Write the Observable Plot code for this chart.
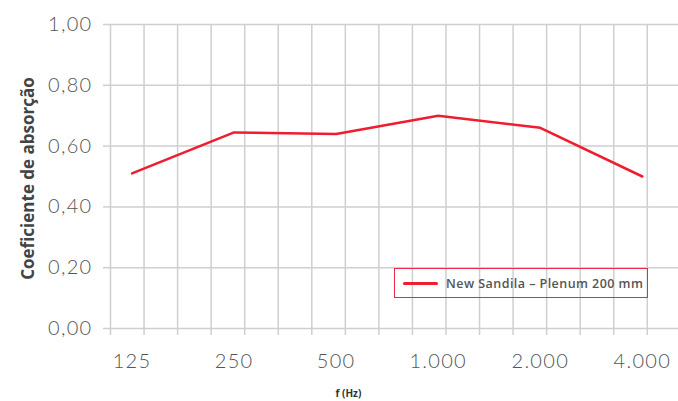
<!DOCTYPE html>
<html>
<head>
<meta charset="utf-8">
<script src="https://cdn.jsdelivr.net/npm/d3@7"></script>
<script src="https://cdn.jsdelivr.net/npm/@observablehq/plot@0.6"></script>
<style>
  html, body { margin: 0; padding: 0; background: #fff; }
  #wrap { position: relative; width: 678px; height: 401px; font-family: Lato, "Open Sans", sans-serif; }
  #wrap svg g[aria-label="y-axis tick label"] text,
  #wrap svg g[aria-label="x-axis tick label"] text { letter-spacing: 1.3px; }
  #wrap svg g[aria-label="ytitle"] text { letter-spacing: 0.9px; }
  #legend { position: absolute; left: 394px; top: 268px; width: 252px; height: 28px; border: 1px solid #e8294a; box-sizing: content-box; display: flex; align-items: center; }
  #legend .sw { width: 35px; height: 3px; background: #ee1d2f; border-radius: 2px; margin-left: 8px; margin-right: 8px; }
  #legend .lb { font-family: "Open Sans", sans-serif; font-size: 12.5px; font-weight: 600; letter-spacing: 0.45px; color: #555; white-space: nowrap; }
</style>
</head>
<body>
<div id="wrap"></div>
<script>
const frequencies = [125, 250, 500, 1000, 2000, 4000];
const tickLabels = ["125", "250", "500", "1.000", "2.000", "4.000"];
const absorption = [0.51, 0.645, 0.64, 0.70, 0.66, 0.50];
const yTicks = [0, 0.2, 0.4, 0.6, 0.8, 1.0];
const seriesName = "New Sandila – Plenum 200 mm";
const yTitle = "Coeficiente de absorção";
const xTitle = "f (Hz)";

const data = frequencies.map((f, i) => ({f, v: absorption[i]}));
const xMin = 108, xMax = 5113;
// 17 evenly spaced vertical grid lines (styling)
const gridFreq = d3.range(17).map(i => xMin * Math.pow(2, i * 0.3287));
const fmtY = d => d.toFixed(2).replace(".", ",");
const fmtX = d => tickLabels[frequencies.indexOf(d)];
const gray = "#cfcfcf";
const txt = "#555";

const plot = Plot.plot({
  width: 678,
  height: 401,
  marginTop: 24,
  marginBottom: 73,
  marginLeft: 110,
  marginRight: 0,
  style: {fontFamily: "Lato, 'Open Sans', sans-serif", background: "#fff"},
  x: {type: "log", domain: [xMin, xMax]},
  y: {domain: [0, 1]},
  marks: [
    Plot.gridX(gridFreq, {stroke: gray, strokeOpacity: 1, strokeWidth: 1.5}),
    Plot.gridY(yTicks, {stroke: gray, strokeOpacity: 1, strokeWidth: 1.5}),
    Plot.axisY(yTicks, {tickSize: 7, tickPadding: 11, stroke: gray, strokeWidth: 1.5, tickFormat: fmtY, fontSize: 20, fill: txt, fontWeight: 300, label: null}),
    Plot.axisX(gridFreq, {tickSize: 7, stroke: gray, strokeWidth: 1.5, tickFormat: () => "", label: null}),
    Plot.axisX(frequencies, {tickSize: 0, tickPadding: 25, tickFormat: fmtX, fontSize: 20, fill: txt, fontWeight: 300, label: null}),
    Plot.line(data, {x: "f", y: "v", stroke: "#ee1d2f", strokeWidth: 2.5}),
    Plot.text([yTitle], {ariaLabel: "ytitle", frameAnchor: "left", textAnchor: "middle", dx: -82, dy: 2, rotate: -90, fontSize: 17, fontWeight: "bold", fill: "#444", fontFamily: "'Open Sans', sans-serif"}),
    Plot.text([xTitle], {frameAnchor: "bottom", dx: -46, dy: 68, fontSize: 10, fontWeight: "bold", fill: "#333", fontFamily: "'Open Sans', sans-serif"})
  ]
});
const wrap = document.getElementById("wrap");
wrap.appendChild(plot);
const leg = document.createElement("div");
leg.id = "legend";
leg.innerHTML = `<div class="sw"></div><div class="lb"></div>`;
leg.querySelector(".lb").textContent = seriesName;
wrap.appendChild(leg);
</script>
</body>
</html>
